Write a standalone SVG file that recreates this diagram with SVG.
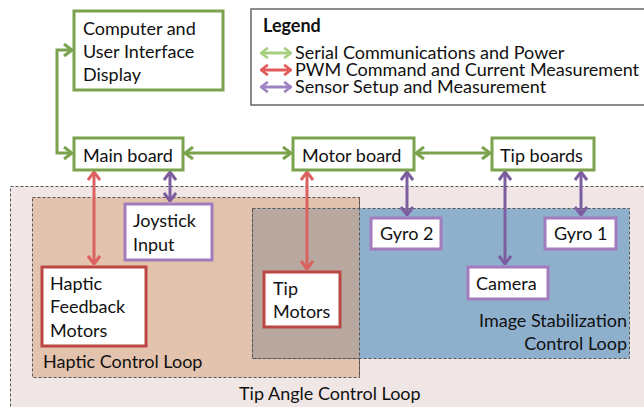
<svg xmlns="http://www.w3.org/2000/svg" width="644" height="407" viewBox="0 0 644 407">
<style>
text{font-family:Lato,"Open Sans","Liberation Sans",sans-serif;font-size:18px;fill:#111}
.region{stroke:#555;stroke-width:1;stroke-dasharray:3 2}
.node{fill:#fff;stroke-width:3}
.g{stroke:#7ba24d}
.r{stroke:#bb4643}
.p{stroke:#a27cbd}
.c{fill:none;stroke-width:3}
.cg{stroke:#7ba24d}
.cr{stroke:#db6260}
.cp{stroke:#7c5ea0}
</style>
<defs>
<marker id="ag" viewBox="0 0 10 14" refX="9" refY="7" markerWidth="10" markerHeight="14" markerUnits="userSpaceOnUse" orient="auto-start-reverse"><path d="M1,1 L9,7 L1,13" fill="none" stroke="#7ba24d" stroke-width="3"/></marker>
<marker id="ar" viewBox="0 0 10 14" refX="9" refY="7" markerWidth="10" markerHeight="14" markerUnits="userSpaceOnUse" orient="auto-start-reverse"><path d="M1,1 L9,7 L1,13" fill="none" stroke="#db6260" stroke-width="3"/></marker>
<marker id="ap" viewBox="0 0 10 14" refX="9" refY="7" markerWidth="10" markerHeight="14" markerUnits="userSpaceOnUse" orient="auto-start-reverse"><path d="M1,1 L9,7 L1,13" fill="none" stroke="#7c5ea0" stroke-width="3"/></marker>
<marker id="lg" viewBox="0 0 10 14" refX="9" refY="7" markerWidth="9" markerHeight="12" markerUnits="userSpaceOnUse" orient="auto-start-reverse"><path d="M1,1 L9,7 L1,13" fill="none" stroke="#a6cf7e" stroke-width="3"/></marker>
<marker id="lr" viewBox="0 0 10 14" refX="9" refY="7" markerWidth="9" markerHeight="12" markerUnits="userSpaceOnUse" orient="auto-start-reverse"><path d="M1,1 L9,7 L1,13" fill="none" stroke="#e05a5a" stroke-width="3"/></marker>
<marker id="lp" viewBox="0 0 10 14" refX="9" refY="7" markerWidth="9" markerHeight="12" markerUnits="userSpaceOnUse" orient="auto-start-reverse"><path d="M1,1 L9,7 L1,13" fill="none" stroke="#9b82c2" stroke-width="3"/></marker>
</defs>
<rect width="644" height="407" fill="#fff"/>
<g id="regions">
<rect id="tip-angle-loop" class="region" x="10.5" y="186.5" width="640" height="230" fill="#efe6e5"/>
<rect id="haptic-loop" class="region" x="32.5" y="197.5" width="327" height="180" fill="#e3c3ad"/>
<rect id="image-loop" class="region" x="252.5" y="208.5" width="377" height="150" fill="#8fb0cd"/>
<rect id="overlap" x="253" y="209" width="106" height="149" fill="#b8a8a0"/>
<path class="region" d="M359.5,197.5 V377.5" fill="none"/>
<path class="region" d="M252.5,208.5 V358.5 H359.5" fill="none"/>
<text x="43" y="368">Haptic Control Loop</text>
<text x="627" y="327" text-anchor="end">Image Stabilization</text>
<text x="627" y="350" text-anchor="end">Control Loop</text>
<text x="239" y="400">Tip Angle Control Loop</text>
</g>
<g id="legend">
<rect x="251" y="9" width="400" height="96" fill="#fff" stroke="#666" stroke-width="1.5"/>
<text x="263" y="32" font-weight="bold">Legend</text>
<line x1="261" y1="53" x2="291" y2="53" stroke="#a6cf7e" stroke-width="3" marker-start="url(#lg)" marker-end="url(#lg)"/>
<line x1="261" y1="70" x2="291" y2="70" stroke="#e05a5a" stroke-width="3" marker-start="url(#lr)" marker-end="url(#lr)"/>
<line x1="261" y1="87" x2="291" y2="87" stroke="#9b82c2" stroke-width="3" marker-start="url(#lp)" marker-end="url(#lp)"/>
<text x="295" y="59">Serial Communications and Power</text>
<text x="295" y="76">PWM Command and Current Measurement</text>
<text x="295" y="93">Sensor Setup and Measurement</text>
</g>
<g id="connectors">
<path class="c cg" d="M72,50 H57 V153 H72" marker-start="url(#ag)" marker-end="url(#ag)"/>
<path class="c cg" d="M185,153 H291" marker-start="url(#ag)" marker-end="url(#ag)"/>
<path class="c cg" d="M416,153 H490" marker-start="url(#ag)" marker-end="url(#ag)"/>
<path class="c cr" d="M94,172 V264" marker-start="url(#ar)" marker-end="url(#ar)"/>
<path class="c cr" d="M307,172 V269" marker-start="url(#ar)" marker-end="url(#ar)"/>
<path class="c cp" d="M170,172 V201" marker-start="url(#ap)" marker-end="url(#ap)"/>
<path class="c cp" d="M407,172 V215" marker-start="url(#ap)" marker-end="url(#ap)"/>
<path class="c cp" d="M505,172 V264" marker-start="url(#ap)" marker-end="url(#ap)"/>
<path class="c cp" d="M581,172 V215" marker-start="url(#ap)" marker-end="url(#ap)"/>
</g>
<g id="computer"><rect class="node g" x="74" y="11" width="149" height="79"/><text x="83" y="35">Computer and</text><text x="83" y="58">User Interface</text><text x="83" y="81">Display</text></g>
<g id="main-board"><rect class="node g" x="74" y="138" width="109" height="32"/><text x="83" y="162">Main board</text></g>
<g id="motor-board"><rect class="node g" x="293" y="138" width="121" height="32"/><text x="302" y="162">Motor board</text></g>
<g id="tip-boards"><rect class="node g" x="492" y="138" width="102" height="32"/><text x="500" y="162">Tip boards</text></g>
<g id="joystick"><rect class="node p" x="125" y="204" width="87" height="56"/><text x="133" y="227">Joystick</text><text x="133" y="251">Input</text></g>
<g id="haptic-motors"><rect class="node r" x="42" y="267" width="104" height="79"/><text x="50" y="290">Haptic</text><text x="50" y="313">Feedback</text><text x="50" y="337">Motors</text></g>
<g id="tip-motors"><rect class="node r" x="264" y="272" width="76" height="55"/><text x="273" y="295">Tip</text><text x="273" y="318">Motors</text></g>
<g id="gyro2"><rect class="node p" x="371" y="218" width="70" height="31"/><text x="380" y="240">Gyro 2</text></g>
<g id="gyro1"><rect class="node p" x="545" y="218" width="71" height="31"/><text x="554" y="240">Gyro 1</text></g>
<g id="camera"><rect class="node p" x="468" y="267" width="80" height="32"/><text x="476" y="290">Camera</text></g>
</svg>
